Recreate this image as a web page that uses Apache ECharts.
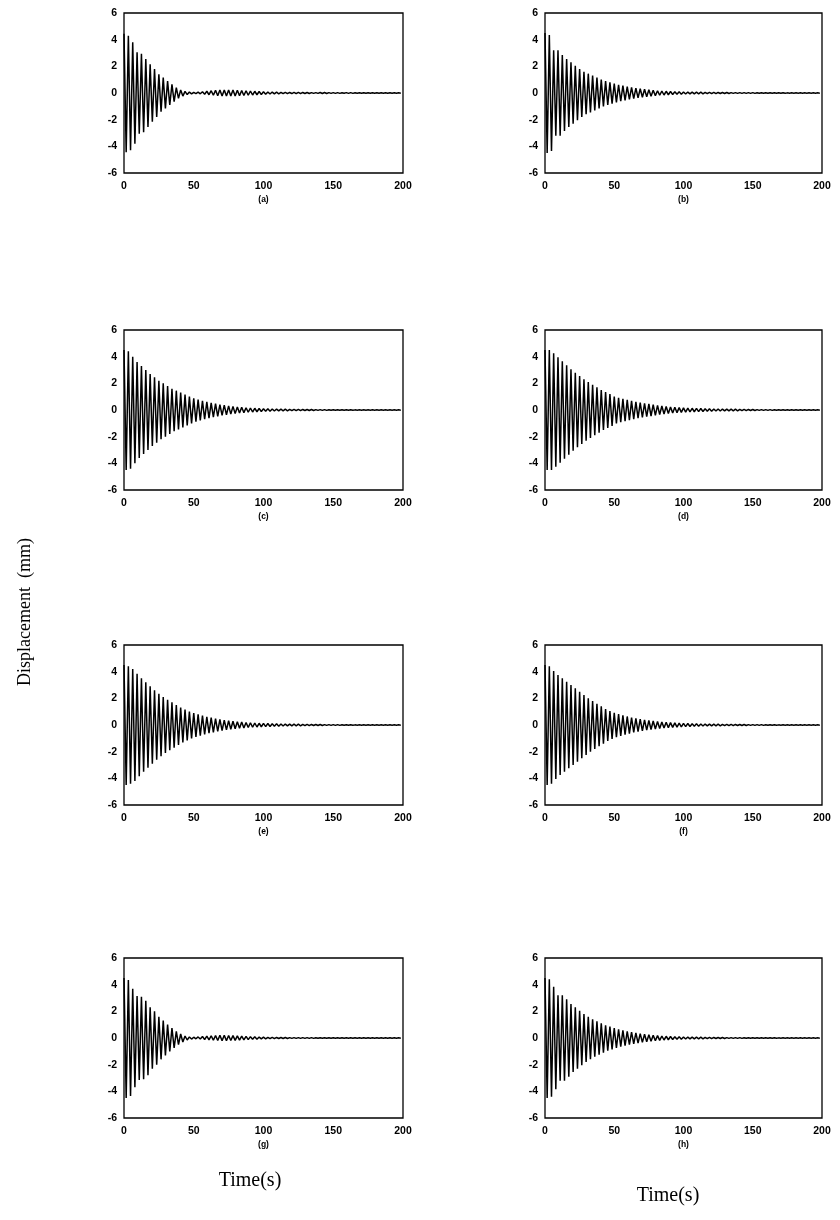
<!DOCTYPE html>
<html>
<head>
<meta charset="utf-8">
<script src="https://cdn.jsdelivr.net/npm/echarts@6/dist/echarts.min.js"></script>
<style>
html,body{margin:0;padding:0;background:#fff;}
#chart{width:840px;height:1220px;}
</style>
</head>
<body>
<div id="chart"></div>
<script>
// Oscillation period (s) read from peak spacing
const period = 3.125;
// Peak amplitudes (mm), one per cycle
const ampA = [4.45,4.3,3.8,3.05,2.95,2.55,2.15,1.8,1.4,1.15,0.9,0.65,0.4,0.23,0.12,0.07,0.05,0.06,0.09,0.13,0.17,0.2,0.22,0.23,0.23,0.22,0.2,0.19,0.17,0.15,0.13,0.11,0.1,0.08,0.07,0.06,0.05,0.05,0.04,0.05,0.05,0.04,0.04,0.03,0.03,0.04,0.04,0.03,0.03,0.03,0.02,0.03,0.03,0.02,0.02,0.02,0.02,0.02,0.02,0.02,0.02,0.02,0.02,0.02];
const ampB = [4.5,4.35,3.2,3.2,2.85,2.55,2.3,2.05,1.8,1.6,1.45,1.3,1.15,1.0,0.9,0.8,0.7,0.62,0.55,0.48,0.42,0.37,0.32,0.28,0.24,0.2,0.17,0.15,0.13,0.11,0.1,0.09,0.08,0.07,0.07,0.06,0.06,0.05,0.05,0.05,0.04,0.04,0.04,0.03,0.03,0.03,0.03,0.03,0.03,0.02,0.02,0.02,0.02,0.02,0.02,0.02,0.01,0.01,0.01,0.01,0.01,0.01,0.01,0.01];
const ampC = [4.5,4.4,4.0,3.6,3.3,3.0,2.7,2.45,2.2,2.0,1.8,1.6,1.45,1.3,1.15,1.0,0.88,0.78,0.69,0.61,0.54,0.47,0.41,0.36,0.31,0.27,0.23,0.2,0.17,0.15,0.13,0.11,0.1,0.09,0.08,0.07,0.06,0.06,0.05,0.05,0.05,0.04,0.04,0.04,0.03,0.03,0.03,0.02,0.02,0.02,0.02,0.02,0.02,0.01,0.01,0.01,0.01,0.01,0.01,0.01,0.01,0.01,0.01,0.01];
const ampD = [4.5,4.5,4.25,3.95,3.65,3.35,3.05,2.8,2.55,2.3,2.1,1.9,1.7,1.5,1.35,1.2,1.0,0.92,0.84,0.76,0.68,0.61,0.55,0.5,0.45,0.4,0.35,0.3,0.26,0.23,0.2,0.18,0.16,0.14,0.13,0.12,0.11,0.1,0.09,0.08,0.08,0.07,0.07,0.06,0.06,0.05,0.05,0.04,0.04,0.03,0.03,0.03,0.03,0.02,0.02,0.02,0.02,0.02,0.02,0.02,0.02,0.02,0.02,0.02];
const ampE = [4.5,4.4,4.2,3.85,3.5,3.2,2.9,2.6,2.35,2.1,1.9,1.7,1.5,1.3,1.15,1.0,0.9,0.8,0.7,0.62,0.55,0.48,0.42,0.37,0.32,0.28,0.25,0.22,0.19,0.17,0.15,0.13,0.12,0.11,0.1,0.09,0.08,0.07,0.07,0.06,0.06,0.05,0.05,0.04,0.04,0.04,0.03,0.03,0.03,0.03,0.02,0.02,0.02,0.01,0.01,0.01,0.01,0.01,0.01,0.01,0.01,0.01,0.01,0.01];
const ampF = [4.5,4.4,4.05,3.75,3.5,3.25,3.0,2.75,2.5,2.25,2.0,1.8,1.6,1.4,1.2,1.05,0.92,0.82,0.72,0.64,0.56,0.5,0.44,0.39,0.34,0.3,0.26,0.23,0.2,0.18,0.16,0.14,0.12,0.11,0.1,0.09,0.08,0.07,0.07,0.06,0.06,0.05,0.05,0.05,0.04,0.04,0.04,0.03,0.03,0.03,0.03,0.02,0.02,0.02,0.01,0.01,0.01,0.01,0.01,0.01,0.01,0.01,0.01,0.01];
const ampG = [4.5,4.35,3.7,3.15,3.1,2.8,2.3,2.0,1.6,1.3,1.0,0.75,0.5,0.3,0.15,0.08,0.06,0.08,0.11,0.14,0.17,0.19,0.2,0.2,0.19,0.18,0.16,0.14,0.12,0.1,0.09,0.07,0.06,0.05,0.05,0.04,0.04,0.04,0.03,0.03,0.03,0.03,0.03,0.03,0.02,0.02,0.02,0.02,0.02,0.02,0.02,0.02,0.02,0.02,0.02,0.02,0.02,0.02,0.02,0.02,0.02,0.02,0.02,0.02];
const ampH = [4.5,4.4,3.85,3.2,3.2,2.9,2.55,2.3,2.05,1.8,1.6,1.4,1.25,1.1,0.95,0.85,0.75,0.65,0.57,0.5,0.44,0.38,0.33,0.28,0.24,0.21,0.18,0.15,0.13,0.11,0.1,0.09,0.08,0.07,0.07,0.06,0.06,0.05,0.05,0.04,0.04,0.04,0.03,0.03,0.03,0.03,0.02,0.02,0.02,0.02,0.02,0.02,0.02,0.02,0.01,0.01,0.01,0.01,0.01,0.01,0.01,0.01,0.01,0.01];

const panelAmps = [ampA, ampB, ampC, ampD, ampE, ampF, ampG, ampH];
const panelLabels = ['(a)','(b)','(c)','(d)','(e)','(f)','(g)','(h)'];
const xTicks = [0, 50, 100, 150, 200];
const yTicks = [-6, -4, -2, 0, 2, 4, 6];
const yAxisTitle = 'Displacement  (mm)';
const xAxisTitle = 'Time(s)';

function buildSeries(amps) {
  const pts = [];
  amps.forEach((a, k) => {
    pts.push([k * period, a]);
    pts.push([k * period + period / 2, -a]);
  });
  return pts;
}

const colLeft = [124, 545];
const colWidth = [279, 277];
const rowTop = [13, 330, 645, 958];
const plotH = 160;

const grids = [], xAxes = [], yAxes = [], series = [];
const labelFont = { fontFamily: 'Liberation Sans, Arial, sans-serif', fontWeight: 'bold', fontSize: 10.5, color: '#000' };

panelAmps.forEach((amps, i) => {
  const col = i % 2, row = Math.floor(i / 2);
  grids.push({
    left: colLeft[col], top: rowTop[row], width: colWidth[col], height: plotH,
    show: true, borderColor: '#000', borderWidth: 1.3, backgroundColor: 'transparent'
  });
  xAxes.push({
    type: 'value', gridIndex: i, min: xTicks[0], max: xTicks[xTicks.length - 1], interval: 50,
    axisLine: { show: false }, axisTick: { show: false }, splitLine: { show: false },
    axisLabel: Object.assign({ margin: 8 }, labelFont),
    name: panelLabels[i], nameLocation: 'middle', nameGap: 22,
    nameTextStyle: { fontFamily: 'Liberation Sans, Arial, sans-serif', fontWeight: 'bold', fontSize: 8.5, color: '#000' }
  });
  yAxes.push({
    type: 'value', gridIndex: i, min: yTicks[0], max: yTicks[yTicks.length - 1], interval: 2,
    axisLine: { show: false }, axisTick: { show: false }, splitLine: { show: false },
    axisLabel: Object.assign({ margin: 7 }, labelFont)
  });
  series.push({
    type: 'line', xAxisIndex: i, yAxisIndex: i, data: buildSeries(amps),
    showSymbol: false, symbol: 'none', smooth: false, clip: true,
    lineStyle: { color: '#000', width: 1.5 }, animation: false
  });
});

const chart = echarts.init(document.getElementById('chart'), null, { renderer: 'canvas' });
chart.setOption({
  backgroundColor: '#fff',
  animation: false,
  grid: grids, xAxis: xAxes, yAxis: yAxes, series: series,
  graphic: [
    { type: 'text', x: 25, y: 612, rotation: Math.PI / 2, style: { text: yAxisTitle, font: '18px "Liberation Serif", "DejaVu Serif", serif', fill: '#000', align: 'center', verticalAlign: 'middle' } },
    { type: 'text', x: 250, y: 1181, style: { text: xAxisTitle, font: '20px "Liberation Serif", "DejaVu Serif", serif', fill: '#000', align: 'center', verticalAlign: 'middle' } },
    { type: 'text', x: 668, y: 1196, style: { text: xAxisTitle, font: '20px "Liberation Serif", "DejaVu Serif", serif', fill: '#000', align: 'center', verticalAlign: 'middle' } }
  ]
});
</script>
</body>
</html>
